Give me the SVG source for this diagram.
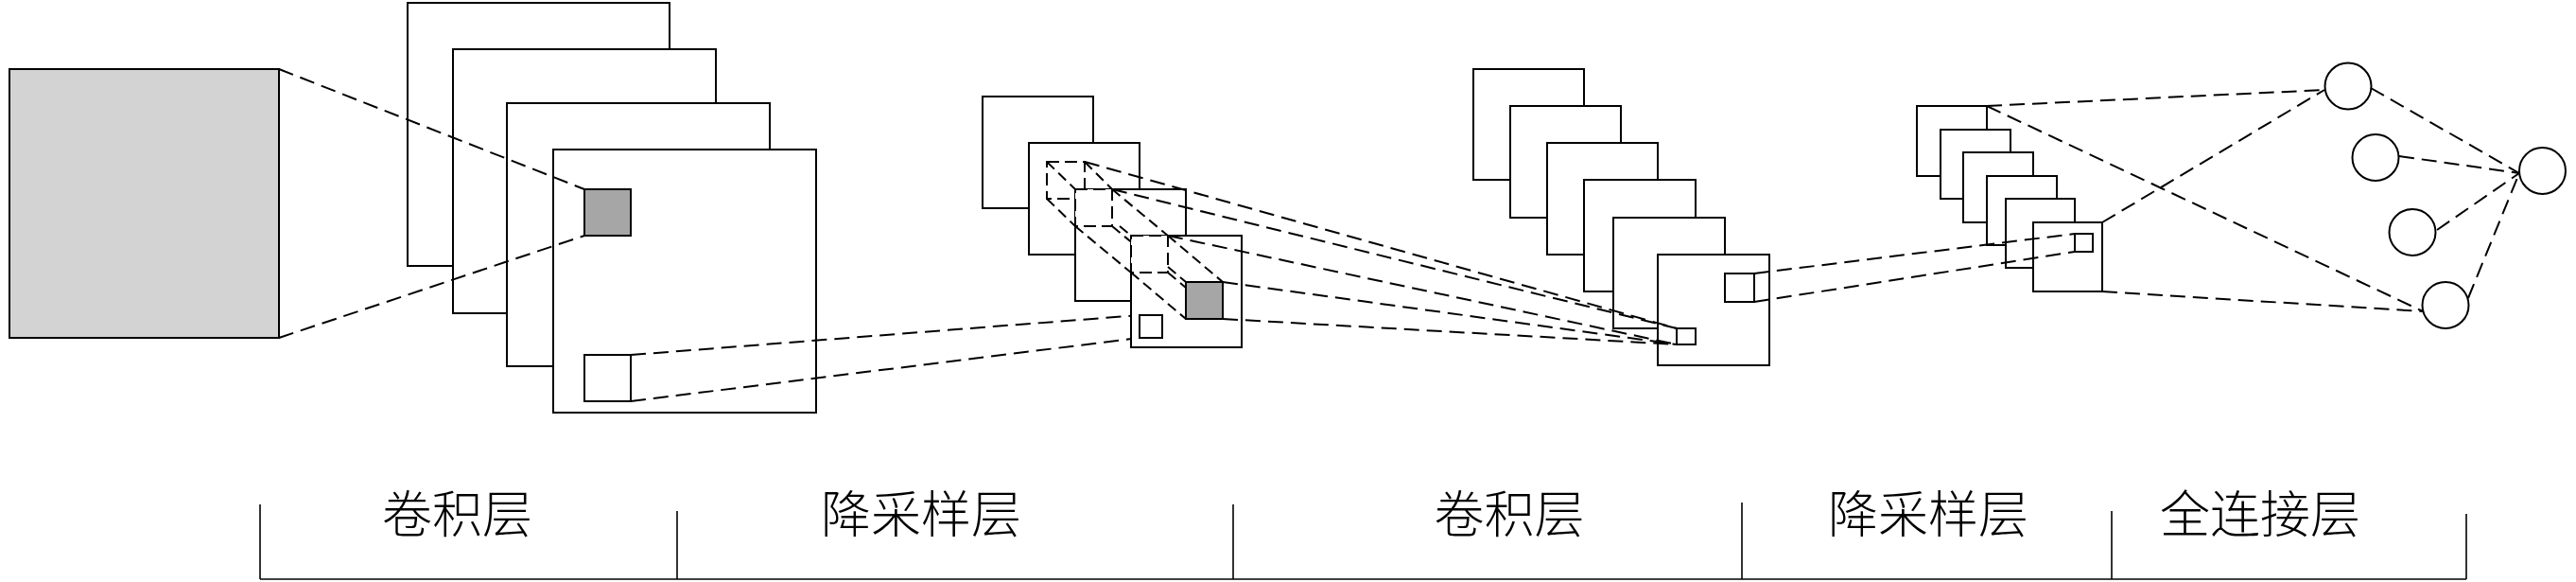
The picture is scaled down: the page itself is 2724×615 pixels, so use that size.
<svg xmlns="http://www.w3.org/2000/svg" width="2724" height="615" viewBox="0 0 2724 615">
<style>
.pl{fill:#fff;stroke:#000;stroke-width:2}
.gs{fill:#a6a6a6;stroke:#000;stroke-width:2}
.ds{fill:#fff;stroke:#000;stroke-width:2;stroke-dasharray:13 6}
.cn line{stroke:#000;stroke-width:2;stroke-dasharray:16 8;fill:none}
.tn line{stroke:#000;stroke-width:2;stroke-dasharray:11 6;fill:none}
.br line{stroke:#000;stroke-width:1.6}
.lb{font-family:"Noto Sans CJK SC",sans-serif;font-size:53px;font-weight:300;text-anchor:middle;fill:#000}
</style>
<rect width="2724" height="615" fill="#fff"/>
<g id="input">
<rect x="10" y="73" width="285" height="284" fill="#d3d3d3" stroke="#000" stroke-width="2"/>
</g>
<g id="conv1">
<rect class="pl" x="431" y="3" width="277" height="278"/>
<rect class="pl" x="479" y="52" width="278" height="279"/>
<rect class="pl" x="536" y="109" width="278" height="278"/>
<rect class="pl" x="585" y="158" width="278" height="278"/>
<rect class="gs" x="618" y="200" width="49" height="49"/>
<rect class="pl" x="618" y="375" width="49" height="49"/>
</g>
<g id="pool1">
<rect class="pl" x="1039" y="102" width="117" height="118"/>
<rect class="pl" x="1088" y="151" width="117" height="118"/>
<rect class="ds" x="1107" y="171" width="40" height="39"/>
<rect class="pl" x="1137" y="200" width="117" height="118"/>
<rect class="ds" x="1137" y="200" width="39" height="39"/>
<rect class="pl" x="1196" y="249" width="117" height="118"/>
<rect class="ds" x="1196" y="249" width="39" height="39"/>
<rect class="gs" x="1254" y="298" width="39" height="39"/>
<rect class="pl" x="1205" y="333" width="24" height="24"/>
</g>
<g id="conv2">
<rect class="pl" x="1558" y="73" width="117" height="117"/>
<rect class="pl" x="1597" y="112" width="117" height="118"/>
<rect class="pl" x="1636" y="151" width="117" height="118"/>
<rect class="pl" x="1675" y="190" width="118" height="118"/>
<rect class="pl" x="1706" y="230" width="118" height="117"/>
<rect class="pl" x="1753" y="269" width="118" height="117"/>
<rect class="pl" x="1824" y="289" width="31" height="30"/>
<rect class="pl" x="1773" y="347" width="20" height="17"/>
</g>
<g id="pool2">
<rect class="pl" x="2027" y="112" width="74" height="74"/>
<rect class="pl" x="2052" y="137" width="74" height="73"/>
<rect class="pl" x="2076" y="161" width="74" height="74"/>
<rect class="pl" x="2101" y="186" width="74" height="73"/>
<rect class="pl" x="2121" y="210" width="73" height="73"/>
<rect class="pl" x="2150" y="235" width="73" height="73"/>
<rect class="pl" x="2194" y="247" width="19" height="19"/>
</g>
<g id="fc">
<circle class="pl" cx="2483" cy="91" r="24.5"/>
<circle class="pl" cx="2512" cy="166.5" r="24.5"/>
<circle class="pl" cx="2551" cy="245.5" r="24.5"/>
<circle class="pl" cx="2586" cy="322.5" r="24.5"/>
<circle class="pl" cx="2688.5" cy="180.5" r="24.5"/>
</g>
<g id="connectors">
<g class="tn">
<line x1="1107" y1="171" x2="1137" y2="200"/>
<line x1="1147" y1="171" x2="1176" y2="200"/>
<line x1="1107" y1="210" x2="1137" y2="239"/>
<line x1="1184" y1="239" x2="1196" y2="249"/>
<line x1="1176" y1="200" x2="1235" y2="249"/>
<line x1="1137" y1="239" x2="1196" y2="288"/>
<line x1="1176" y1="239" x2="1196" y2="255.6"/>
<line x1="1235" y1="282" x2="1254" y2="298"/>
<line x1="1235" y1="249" x2="1293" y2="298"/>
<line x1="1196" y1="288" x2="1254" y2="337"/>
<line x1="1235" y1="288" x2="1254" y2="304"/>
</g>
<g class="cn">
<line x1="295" y1="73" x2="618" y2="200"/>
<line x1="295" y1="357" x2="618" y2="249"/>
<line x1="667" y1="375" x2="1196" y2="333.7"/>
<line x1="667" y1="424" x2="1196" y2="358.1"/>
<line x1="1147" y1="171" x2="1773" y2="347"/>
<line x1="1176" y1="200" x2="1773" y2="347"/>
<line x1="1235" y1="249" x2="1773" y2="364"/>
<line x1="1293" y1="298" x2="1773" y2="364"/>
<line x1="1293" y1="337" x2="1773" y2="364"/>
<line x1="1855" y1="289" x2="2194" y2="247"/>
<line x1="1855" y1="319" x2="2194" y2="266"/>
<line x1="2101" y1="112" x2="2458" y2="95"/>
<line x1="2101" y1="112" x2="2562" y2="329"/>
<line x1="2223" y1="235" x2="2458" y2="95"/>
<line x1="2223" y1="308" x2="2562" y2="329"/>
<line x1="2507" y1="93" x2="2664" y2="183"/>
<line x1="2537" y1="165" x2="2664" y2="183"/>
<line x1="2577" y1="243" x2="2664" y2="183"/>
<line x1="2610" y1="315" x2="2664" y2="183"/>
</g>
</g>
<g id="bracket" class="br">
<line x1="275" y1="612" x2="2608" y2="612" stroke-width="2"/>
<line x1="275" y1="533" x2="275" y2="612"/>
<line x1="716" y1="540" x2="716" y2="612"/>
<line x1="1304" y1="533" x2="1304" y2="612"/>
<line x1="1842" y1="531" x2="1842" y2="612"/>
<line x1="2233" y1="540" x2="2233" y2="612"/>
<line x1="2608" y1="543" x2="2608" y2="612"/>
</g>
<g id="labels">
<text class="lb" x="483.5" y="563">卷积层</text>
<text class="lb" x="974" y="563">降采样层</text>
<text class="lb" x="1596" y="563">卷积层</text>
<text class="lb" x="2039" y="563">降采样层</text>
<text class="lb" x="2390" y="563">全连接层</text>
</g>
</svg>
